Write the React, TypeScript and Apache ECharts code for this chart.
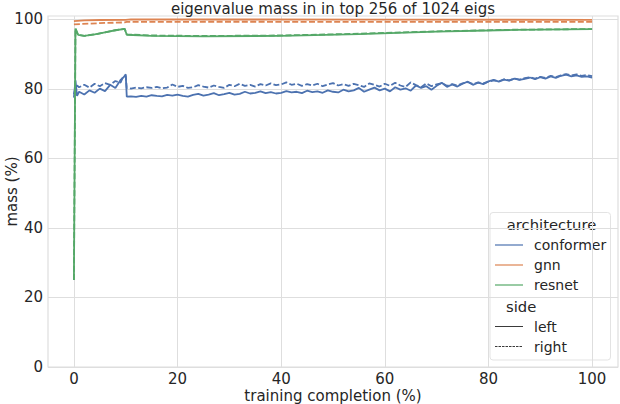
import React, { useEffect, useRef } from 'react';
import * as echarts from 'echarts';

// training completion (%) -> mass (%)
const conformerLeft: [number, number][] = [
  [0, 77.5], [0.3, 82.5], [0.6, 78], [1, 79.2], [2, 78.4], [3, 79.6], [4, 78.9], [5, 80.1], [6, 79.4], [7, 81.2],
  [8, 80.3], [9, 82.6], [9.6, 83.4], [10, 84.2], [10.2, 77.8], [11, 77.9], [12, 77.7], [13, 78], [14, 77.8], [15, 78.2],
  [16, 78], [17, 77.9], [18, 78.3], [19, 78.1], [20, 78.4], [21, 78], [22, 77.8], [23, 78.3], [24, 78.6], [25, 78.1],
  [26, 78.4], [27, 78.8], [28, 78.2], [29, 78.5], [30, 78.9], [31, 78.4], [32, 78.6], [33, 79.2], [34, 78.7], [35, 78.9],
  [36, 79.3], [37, 78.8], [38, 79.1], [39, 78.7], [40, 78.9], [41, 79.4], [42, 79], [43, 79.2], [44, 78.8], [45, 79.5],
  [46, 79.1], [47, 79.3], [48, 78.9], [49, 79.6], [50, 79.2], [51, 79], [52, 79.8], [53, 79.3], [54, 79.6], [55, 80.3],
  [56, 79.2], [57, 79.8], [58, 80.4], [59, 79.6], [60, 80.1], [61, 79.3], [62, 80.5], [63, 79.8], [64, 80.2], [65, 79.5],
  [66, 81], [67, 80.3], [68, 80.8], [69, 79.8], [70, 80.9], [71, 81.8], [72, 80.6], [73, 81.3], [74, 80.7], [75, 81.5],
  [76, 82.1], [77, 81.2], [78, 81.8], [79, 81.4], [80, 82.2], [81, 82.6], [82, 82.1], [83, 82.7], [84, 82.4], [85, 83],
  [86, 82.6], [87, 82.9], [88, 83.3], [89, 82.8], [90, 83.4], [91, 83], [92, 83.6], [93, 83.2], [94, 83.8], [95, 84.1],
  [96, 83.6], [97, 83.9], [98, 83.5], [99, 83.6], [100, 83.3],
];

const conformerRight: [number, number][] = [
  [0, 78.5], [0.3, 80.5], [0.6, 81], [1, 80.5], [2, 81.2], [3, 80.4], [4, 81.5], [5, 80.8], [6, 81.7], [7, 81.2],
  [8, 82.3], [9, 81.8], [9.5, 83.5], [10, 83.8], [10.2, 80.3], [11, 80.1], [12, 80.4], [13, 80.2], [14, 80.5], [15, 80.3],
  [16, 80.6], [17, 80.2], [18, 80.4], [19, 81.3], [20, 80.6], [21, 80.9], [22, 80.3], [23, 80.5], [24, 81.1], [25, 80.7],
  [26, 80.4], [27, 81], [28, 80.6], [29, 80.3], [30, 81.2], [31, 80.8], [32, 81.5], [33, 80.9], [34, 81.2], [35, 80.7],
  [36, 81.4], [37, 81], [38, 81.6], [39, 81.1], [40, 81.3], [41, 81.9], [42, 81.2], [43, 81.5], [44, 80.9], [45, 81.4],
  [46, 81], [47, 81.5], [48, 80.8], [49, 81.3], [50, 81.7], [51, 81], [52, 81.4], [53, 80.9], [54, 81.5], [55, 81.1],
  [56, 80.6], [57, 81.6], [58, 81.2], [59, 80.7], [60, 81.5], [61, 80.9], [62, 81.8], [63, 81], [64, 80.6], [65, 81.9],
  [66, 81.1], [67, 80.5], [68, 81.6], [69, 80.8], [70, 81.3], [71, 81.7], [72, 80.9], [73, 81.4], [74, 81], [75, 81.6],
  [76, 82], [77, 81.4], [78, 81.9], [79, 81.6], [80, 82.1], [81, 82.5], [82, 82.2], [83, 82.8], [84, 82.5], [85, 83],
  [86, 82.7], [87, 83.1], [88, 83.4], [89, 83], [90, 83.5], [91, 83.2], [92, 83.8], [93, 83.4], [94, 83.9], [95, 84.3],
  [96, 83.9], [97, 84.2], [98, 83.8], [99, 84], [100, 83.7],
];

const gnnLeft: [number, number][] = [
  [0, 99.5], [2, 99.75], [5, 99.85], [10, 99.9], [11, 100], [30, 100], [60, 99.95], [100, 99.9],
];

const gnnRight: [number, number][] = [
  [0, 98.6], [3, 98.8], [6, 99], [9.8, 99.15], [10.2, 99.3], [30, 99.35], [60, 99.3], [100, 99.3],
];

const resnetLeft: [number, number][] = [
  [0, 25], [0.3, 97.4], [0.8, 95.6], [2, 95.3], [4, 95.7], [6, 96.3], [8, 96.9], [9.8, 97.3], [10.2, 95.6],
  [15, 95.3], [25, 95.15], [40, 95.3], [55, 95.8], [70, 96.5], [85, 97], [100, 97.2],
];

const resnetRight: [number, number][] = [
  [0, 25], [0.3, 97.4], [0.8, 95.6], [2, 95.3], [4, 95.7], [6, 96.3], [8, 96.9], [9.8, 97.3], [10.2, 95.7],
  [15, 95.4], [25, 95.25], [40, 95.4], [55, 95.9], [70, 96.6], [85, 97.05], [100, 97.25],
];

const xTicks = [0, 20, 40, 60, 80, 100];
const yTicks = [0, 20, 40, 60, 80, 100];

const archNames = ['conformer', 'gnn', 'resnet'];
const archColors = ['#4c72b0', '#dd8452', '#55a868'];
const sideNames = ['left', 'right'];

const TEXT = '#262626';
const GRID = '#dedede';
const FONT = 'DejaVu Sans';
const DASH = [6, 2.4];

const App: React.FC = () => {
  const chartRef = useRef<HTMLDivElement>(null);

  useEffect(() => {
    if (!chartRef.current) return;
    const chart = echarts.init(chartRef.current, null, { renderer: 'svg' });

    const mk = (name: string, data: [number, number][], color: string, dashed: boolean) => ({
      name,
      type: 'line',
      data,
      showSymbol: false,
      symbol: 'none',
      lineStyle: { color, width: 1.8, type: dashed ? DASH : 'solid' },
      z: 3,
    });

    // legend drawn as graphic (seaborn style with sub-titles)
    const lx = 495;
    const tx = 534;
    const legend: any[] = [
      {
        type: 'rect',
        shape: { x: 490, y: 212.5, width: 120.5, height: 147.5, r: 3 },
        style: { fill: 'rgba(255,255,255,0.85)', stroke: '#e3e3e3', lineWidth: 1 },
      },
      {
        type: 'text',
        style: { x: 551.5, y: 224, text: 'architecture', fill: TEXT, font: `14.8px "${FONT}"`, align: 'center', verticalAlign: 'middle' },
      },
    ];
    archNames.forEach((n, i) => {
      const y = 245 + i * 20;
      legend.push({
        type: 'line',
        shape: { x1: lx, y1: y, x2: lx + 28, y2: y },
        style: { stroke: archColors[i], lineWidth: 1.2 },
      });
      legend.push({
        type: 'text',
        style: { x: tx, y, text: n, fill: TEXT, font: `14px "${FONT}"`, verticalAlign: 'middle' },
      });
    });
    legend.push({
      type: 'text',
      style: { x: 506, y: 306.5, text: 'side', fill: TEXT, font: `14.8px "${FONT}"`, verticalAlign: 'middle' },
    });
    sideNames.forEach((n, i) => {
      const y = 326.5 + i * 20;
      legend.push({
        type: 'line',
        shape: { x1: lx, y1: y, x2: lx + 28, y2: y },
        style: { stroke: '#3a3a3a', lineWidth: 1, lineDash: i === 1 ? [2.5, 1] : null },
      });
      legend.push({
        type: 'text',
        style: { x: tx, y, text: n, fill: TEXT, font: `14px "${FONT}"`, verticalAlign: 'middle' },
      });
    });

    const option: any = {
      animation: false,
      backgroundColor: '#ffffff',
      textStyle: { fontFamily: FONT },
      title: {
        text: 'eigenvalue mass in in top 256 of 1024 eigs',
        left: 333,
        top: 1.5,
        padding: 0,
        textAlign: 'center',
        textStyle: { color: TEXT, fontSize: 15, fontWeight: 'normal', fontFamily: FONT },
      },
      grid: {
        left: 48, right: 2, top: 16, bottom: 37,
        outerBoundsMode: 'none', containLabel: false,
        show: true, borderColor: GRID, borderWidth: 1.2,
      },
      xAxis: {
        type: 'value',
        min: -5,
        max: 105,
        name: 'training completion (%)',
        nameLocation: 'middle',
        nameGap: 21,
        nameMoveOverlap: false,
        nameTextStyle: { color: TEXT, fontSize: 15, fontFamily: FONT },
        axisLine: { show: false },
        axisTick: { show: false, customValues: xTicks },
        axisLabel: { customValues: xTicks, color: TEXT, fontSize: 15, fontFamily: FONT, margin: 4 },
        splitLine: { show: true, lineStyle: { color: GRID, width: 1 } },
      },
      yAxis: {
        type: 'value',
        min: 0,
        max: 101,
        name: 'mass (%)',
        nameLocation: 'middle',
        nameGap: 29,
        nameMoveOverlap: false,
        nameTextStyle: { color: TEXT, fontSize: 15, fontFamily: FONT },
        axisLine: { show: false },
        axisTick: { show: false, customValues: yTicks },
        axisLabel: { customValues: yTicks, color: TEXT, fontSize: 15, fontFamily: FONT, margin: 5 },
        splitLine: { show: true, lineStyle: { color: GRID, width: 1 } },
      },
      series: [
        mk('conformer left', conformerLeft, archColors[0], false),
        mk('conformer right', conformerRight, archColors[0], true),
        mk('gnn left', gnnLeft, archColors[1], false),
        mk('gnn right', gnnRight, archColors[1], true),
        mk('resnet left', resnetLeft, archColors[2], false),
        mk('resnet right', resnetRight, archColors[2], true),
      ],
      graphic: legend,
    };

    chart.setOption(option);
    return () => {
      chart.dispose();
    };
  }, []);

  return (
    <div
      ref={chartRef}
      style={{ position: 'fixed', left: 0, top: 0, width: 620, height: 404 }}
    />
  );
};

export default App;
